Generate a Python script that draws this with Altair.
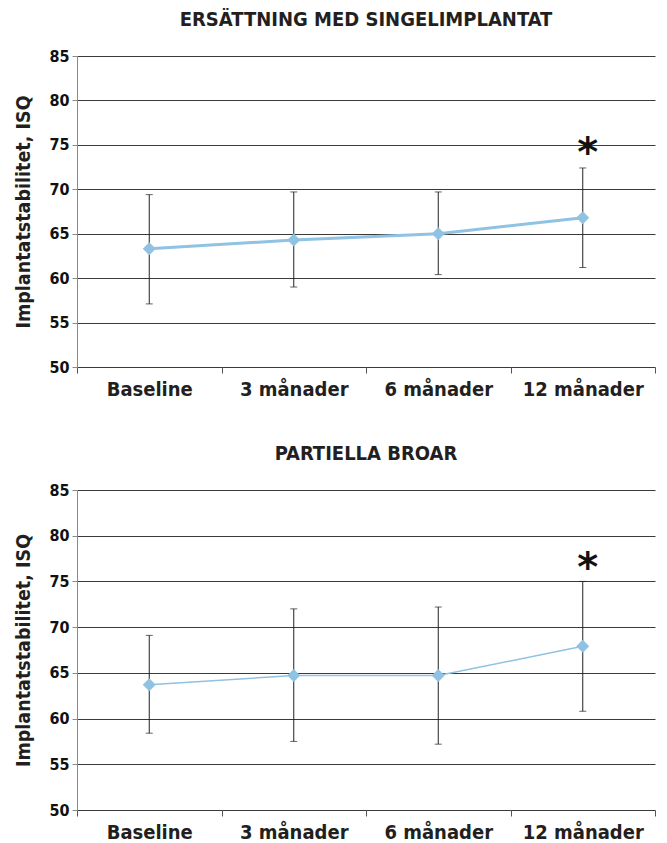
import altair as alt
import pandas as pd

categories = ["Baseline", "3 månader", "6 månader", "12 månader"]

single_mean = [63.3, 64.3, 65.0, 66.8]
single_upper = [69.4, 69.7, 69.7, 72.4]
single_lower = [57.1, 59.0, 60.4, 61.2]
single_star = ["", "", "", "*"]
single_star_y = [None, None, None, 74.9]

bridge_mean = [63.7, 64.7, 64.7, 67.9]
bridge_upper = [69.1, 72.0, 72.2, 75.0]
bridge_lower = [58.4, 57.5, 57.2, 60.8]
bridge_star = ["", "", "", "*"]
bridge_star_y = [None, None, None, 77.2]

y_ticks = [50, 55, 60, 65, 70, 75, 80, 85]

FONT = "DejaVu Sans Condensed, Liberation Sans Narrow, sans-serif"
LINE_COLOR = "#8fc2e3"
YTITLE = "Implantatstabilitet, ISQ"


def panel(title, mean, upper, lower, star, star_y, height, line_width):
    df = pd.DataFrame({
        "cat": categories,
        "mean": mean,
        "upper": upper,
        "lower": lower,
        "star": star,
        "star_y": star_y,
    })
    xscale = alt.Scale(type="band", paddingInner=0, paddingOuter=0, domain=categories)
    yscale = alt.Scale(domain=[50, 85], nice=False, zero=False)

    def X():
        return alt.X("cat:N", sort=categories, scale=xscale, title=None, bandPosition=0.5)

    base = alt.Chart(df)
    errs = base.mark_rule(color="#222", strokeWidth=1).encode(
        x=X(),
        y=alt.Y("lower:Q", scale=yscale, title=YTITLE),
        y2="upper:Q",
    )
    cap_hi = base.mark_tick(color="#222", thickness=1, size=7).encode(
        x=X(), y=alt.Y("upper:Q", scale=yscale, title=YTITLE)
    )
    cap_lo = base.mark_tick(color="#222", thickness=1, size=7).encode(
        x=X(), y=alt.Y("lower:Q", scale=yscale, title=YTITLE)
    )
    line = base.mark_line(color=LINE_COLOR, strokeWidth=line_width).encode(
        x=X(), y=alt.Y("mean:Q", scale=yscale, title=YTITLE)
    )
    pts = base.mark_point(shape="diamond", filled=True, color=LINE_COLOR,
                          size=170, opacity=1).encode(
        x=X(), y=alt.Y("mean:Q", scale=yscale, title=YTITLE)
    )
    stars = base.transform_filter("datum.star != ''").mark_text(
        font="DejaVu Sans", fontWeight="bold", fontSize=40, color="#111",
        baseline="middle", dx=5, dy=8
    ).encode(
        x=X(), y=alt.Y("star_y:Q", scale=yscale, title=YTITLE), text="star:N"
    )
    return alt.layer(errs, cap_hi, cap_lo, line, pts, stars).properties(
        width=578,
        height=height,
        title=alt.TitleParams(title, font=FONT, fontSize=20, fontWeight="bold",
                              color="#231f20", anchor="middle", offset=18),
    )


top = panel("ERSÄTTNING MED SINGELIMPLANTAT", single_mean, single_upper,
            single_lower, single_star, single_star_y, 311, 3)
bottom = panel("PARTIELLA BROAR", bridge_mean, bridge_upper, bridge_lower,
               bridge_star, bridge_star_y, 320, 1.5)

chart = alt.vconcat(top, bottom, spacing=45).properties(
    padding={"left": 5, "top": 2, "right": 0, "bottom": 0}
).configure_view(stroke=None).configure_axisY(
    values=y_ticks,
    grid=True,
    gridColor="#3a3a3a",
    gridWidth=1,
    domainColor="#8a8a8a",
    tickColor="#8a8a8a",
    tickSize=5,
    labelFont=FONT,
    labelFontSize=16,
    labelFontWeight="bold",
    labelColor="#111",
    labelPadding=3,
    titleFont=FONT,
    titleFontSize=19.5,
    titleFontWeight="bold",
    titleColor="#231f20",
    titlePadding=15,
).configure_axisX(
    grid=False,
    domain=False,
    tickBand="extent",
    tickColor="#555",
    tickSize=6,
    labelAngle=0,
    labelFont=FONT,
    labelFontSize=20,
    labelFontWeight="bold",
    labelColor="#231f20",
    labelPadding=6,
)

chart.save("out.html", embed_options={"renderer": "svg", "actions": False})
